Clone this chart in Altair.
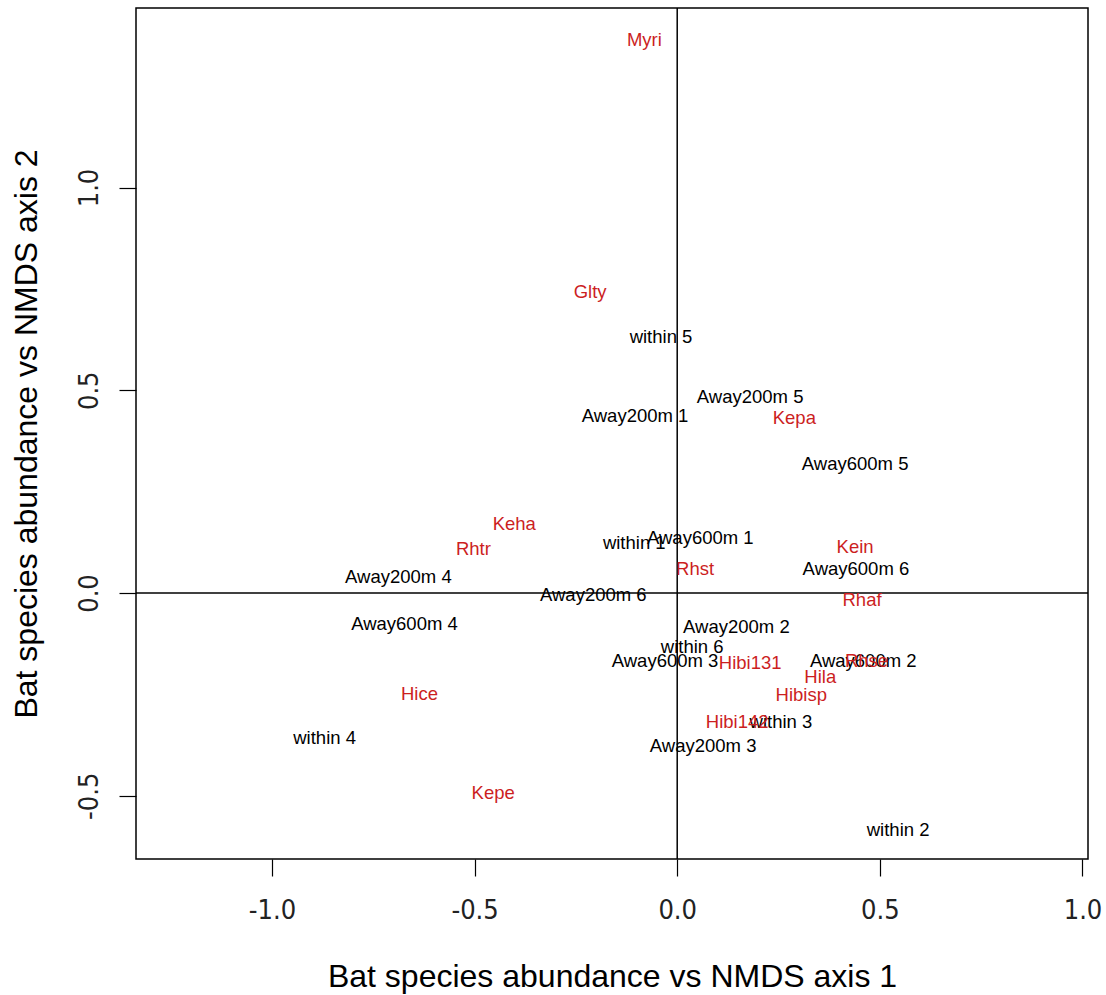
import altair as alt
import pandas as pd

site_names = ["within 5", "Away200m 5", "Away200m 1", "Away600m 5", "Away600m 1",
              "within 1", "Away200m 4", "Away600m 6", "Away200m 6", "Away600m 4",
              "Away200m 2", "within 6", "Away600m 3", "Away600m 2", "within 3",
              "Away200m 3", "within 4", "within 2"]
site_x = [-0.040, 0.180, -0.104, 0.439, 0.057, -0.106, -0.688, 0.441, -0.207, -0.673,
          0.146, 0.037, -0.030, 0.459, 0.256, 0.064, -0.870, 0.545]
site_y = [0.632, 0.484, 0.437, 0.319, 0.136, 0.123, 0.040, 0.059, -0.005, -0.077,
          -0.084, -0.133, -0.168, -0.168, -0.318, -0.378, -0.358, -0.585]

species_names = ["Myri", "Glty", "Kepa", "Keha", "Rhtr", "Kein", "Rhst", "Rhaf",
                 "Hibi131", "Rhse", "Hila", "Hibisp", "Hibi142", "Hice", "Kepe"]
species_x = [-0.081, -0.215, 0.289, -0.402, -0.503, 0.439, 0.044, 0.456,
             0.180, 0.467, 0.353, 0.306, 0.148, -0.636, -0.454]
species_y = [1.363, 0.743, 0.432, 0.170, 0.109, 0.114, 0.059, -0.017,
             -0.173, -0.168, -0.207, -0.252, -0.318, -0.249, -0.494]

x_ticks = [-1.0, -0.5, 0.0, 0.5, 1.0]
y_ticks = [-0.5, 0.0, 0.5, 1.0]
x_domain = [-1.3354, 1.0136]
y_domain = [-0.656, 1.4427]

sites = pd.DataFrame({"x": site_x, "y": site_y, "label": site_names})
species = pd.DataFrame({"x": species_x, "y": species_y, "label": species_names})

xscale = alt.Scale(domain=x_domain, nice=False, zero=False)
yscale = alt.Scale(domain=y_domain, nice=False, zero=False)

tick_font = "Liberation Sans Narrow, DejaVu Sans Condensed, Liberation Sans"
label_expr = "datum.value < 0 ? '-' + format(-datum.value, '.1f') : format(datum.value, '.1f')"

xaxis = alt.Axis(values=x_ticks, labelExpr=label_expr,
                 title="Bat species abundance vs NMDS axis 1",
                 grid=False, domain=False, tickSize=17, tickColor="black", tickWidth=1.2,
                 labelFont=tick_font, labelFontSize=27, labelColor="#222222",
                 labelPadding=21, titleFont="Liberation Sans", titleFontSize=32,
                 titleFontWeight="normal", titleColor="black", titlePadding=38)
yaxis = alt.Axis(values=y_ticks, labelExpr=label_expr,
                 title="Bat species abundance vs NMDS axis 2",
                 grid=False, domain=False, tickSize=17, tickColor="black", tickWidth=1.2,
                 labelFont=tick_font, labelFontSize=27, labelColor="#222222",
                 labelAngle=270, labelAlign="center", labelBaseline="bottom",
                 labelPadding=16, titleFont="Liberation Sans", titleFontSize=32,
                 titleFontWeight="normal", titleColor="black", titlePadding=32)

site_text = alt.Chart(sites).mark_text(font="Liberation Sans", fontSize=18.5,
                                       color="black").encode(
    x=alt.X("x:Q", scale=xscale, axis=xaxis),
    y=alt.Y("y:Q", scale=yscale, axis=yaxis),
    text="label:N",
)
species_text = alt.Chart(species).mark_text(font="Liberation Sans", fontSize=18.5,
                                            color="#cc1f1f").encode(
    x=alt.X("x:Q", scale=xscale),
    y=alt.Y("y:Q", scale=yscale),
    text="label:N",
)

vline = alt.Chart(pd.DataFrame({"x": [0.0]})).mark_rule(color="black", strokeWidth=1.5).encode(
    x=alt.X("x:Q", scale=xscale))
hline = alt.Chart(pd.DataFrame({"y": [0.0]})).mark_rule(color="black", strokeWidth=1.5).encode(
    y=alt.Y("y:Q", scale=yscale))

chart = alt.layer(vline, hline, site_text, species_text).properties(
    width=952, height=851,
    autosize=alt.AutoSizeParams(type="none"),
    padding={"left": 136, "top": 8, "right": 18, "bottom": 136},
    background="white",
).configure_view(stroke="black", strokeWidth=1.5)

chart.save("out.html", embed_options={"renderer": "svg", "actions": False})
